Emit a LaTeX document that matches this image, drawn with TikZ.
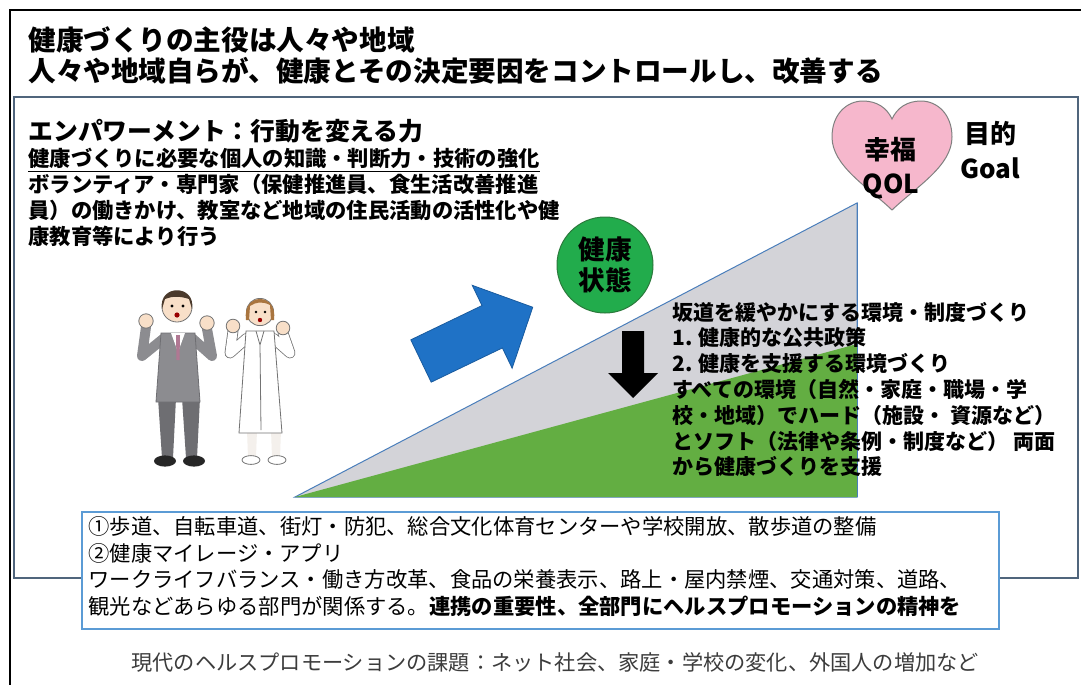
\documentclass[tikz,border=0pt]{standalone}
\usepackage{fontspec}
\usepackage{tikz}
\newfontfamily\jp{Noto Sans CJK JP}

\definecolor{framegray}{HTML}{50657C}
\definecolor{boxblue}{HTML}{5B9BD5}
\definecolor{slopegray}{HTML}{D3D3D8}
\definecolor{slopeline}{HTML}{4A7EBB}
\definecolor{grassgreen}{HTML}{63AE42}
\definecolor{ballgreen}{HTML}{22AC4C}
\definecolor{balledge}{HTML}{2B7A3C}
\definecolor{arrowblue}{HTML}{1F72C6}
\definecolor{heartpink}{HTML}{F6B7CC}
\definecolor{suitgray}{HTML}{8C8C90}
\definecolor{suitdark}{HTML}{6E6E72}
\definecolor{tiepink}{HTML}{B07893}
\definecolor{skin}{HTML}{F8DFC8}
\definecolor{hairdark}{HTML}{4B3A2C}
\definecolor{hairlight}{HTML}{A9753F}
\definecolor{footgray}{HTML}{3C3C3C}

\begin{document}
\begin{tikzpicture}[x=0.5pt, y=-0.5pt,
    every node/.style={inner sep=0pt},
    titletext/.style={anchor=west, font=\jp\bfseries\fontsize{13.8}{16}\selectfont},
    bodytext/.style={anchor=north west, align=left, font=\jp\bfseries\fontsize{10.65}{13}\selectfont},
    boxtext/.style={anchor=north west, align=left, font=\jp\fontsize{10.65}{13.35}\selectfont},
    bigtext/.style={font=\jp\bfseries\fontsize{13}{15}\selectfont},
    outline/.style={draw=black!55, line width=0.4pt}]

    \useasboundingbox (0,0) rectangle (1081,685);
    \fill[white] (0,0) rectangle (1081,685);

    % Draw frames
    \draw[line width=1.2pt] (1081,10) -- (10,10) -- (10,685);
    \draw[framegray, line width=0.7pt] (14,97) rectangle (1078,578);

    % Draw title
    \node[titletext] (title1) at (28,40) {健康づくりの主役は人々や地域};
    \node[titletext] (title2) at (28,71) {人々や地域自らが、健康とその決定要因をコントロールし、改善する};

    % Draw empowerment text
    \node[titletext, font=\jp\bfseries\fontsize{12.4}{15}\selectfont] (empower) at (28,131)
        {エンパワーメント：行動を変える力};
    \node[bodytext] (empowertext) at (28,147.5)
        {\underline{健康づくりに必要な個人の知識・判断力・技術の強化}\\
         ボランティア・専門家（保健推進員、食生活改善推進\\
         員）の働きかけ、教室など地域の住民活動の活性化や健\\
         康教育等により行う};

    % Draw slopes
    \filldraw[fill=slopegray, draw=slopeline, line width=0.5pt]
        (295,497) -- (857,203) -- (857,497) -- cycle;
    \fill[grassgreen] (295,497) -- (857,344) -- (857,497) -- cycle;
    \draw[slopeline, line width=0.4pt] (857,203) -- (857,497);

    % Draw health ball and arrows
    \node[circle, fill=ballgreen, draw=balledge, line width=0.5pt, minimum size=48pt,
          align=center, font=\jp\bfseries\fontsize{13.3}{15.5}\selectfont] (health) at (605,265)
        {健康\\状態};
    \begin{scope}[shift={(421,361)}, rotate=25.7]
        \filldraw[fill=arrowblue, draw=arrowblue!80!black, line width=0.4pt]
            (0,-23.5) -- (79,-23.5) -- (79,-46) -- (124,0) -- (79,46) -- (79,23.5) -- (0,23.5) -- cycle;
    \end{scope}
    \fill[black] (622,331) -- (644,331) -- (644,373) -- (658,373) -- (633,398)
        -- (608,373) -- (622,373) -- cycle;

    % Draw goal heart
    \filldraw[fill=heartpink, draw=black!50, line width=0.5pt]
        (892,210) .. controls (868,187) and (832,166) .. (832,137)
        .. controls (832,114) and (847,101) .. (863,101)
        .. controls (877,101) and (887,108) .. (892,119)
        .. controls (897,108) and (907,101) .. (921,101)
        .. controls (937,101) and (952,114) .. (952,137)
        .. controls (952,166) and (916,187) .. (892,210) -- cycle;
    \node[bigtext] (happy) at (890,150) {幸福};
    \node[bigtext] (qol) at (891,186) {QOL};
    \node[bigtext] (goal1) at (990,134) {目的};
    \node[bigtext] (goal2) at (990,168) {Goal};

    % Draw slope text
    \node[bodytext, font=\jp\bfseries\fontsize{10.5}{12.9}\selectfont] (slopetext) at (672,301.5)
        {坂道を緩やかにする環境・制度づくり\\
         1. 健康的な公共政策\\
         2. 健康を支援する環境づくり\\
         すべての環境（自然・家庭・職場・学\\
         校・地域）でハード（施設・ 資源など）\\
         とソフト（法律や条例・制度など） 両面\\
         から健康づくりを支援};

    % Draw man
    \fill[suitdark] (158,398) -- (176,398) -- (173,458) -- (162,458) -- cycle;
    \fill[suitdark] (182,398) -- (200,398) -- (197,458) -- (186,458) -- cycle;
    \fill[black!85] (165,461) ellipse (5.5pt and 2.8pt);
    \fill[black!85] (194,461) ellipse (5.5pt and 2.8pt);
    \draw[suitgray, line width=5pt, line cap=round, line join=round]
        (163,339) -- (142,356) -- (146,327);
    \draw[suitgray, line width=5pt, line cap=round, line join=round]
        (193,339) -- (212,356) -- (207,329);
    \filldraw[fill=suitgray, draw=suitdark, line width=0.4pt]
        (161,333) -- (195,333) -- (200,402) -- (156,402) -- cycle;
    \fill[white] (171,333) -- (185,333) -- (178,352) -- cycle;
    \fill[tiepink] (176,335) -- (180,335) -- (179.5,360) -- (176.5,360) -- cycle;
    \filldraw[fill=skin, outline] (146,321) circle (3.6pt);
    \filldraw[fill=skin, outline] (207,323) circle (3.6pt);
    \filldraw[fill=skin, outline] (177,307) circle (7.5pt);
    \fill[hairdark] (162,309) .. controls (158,284) and (196,284) .. (192,309)
        -- (189,299) .. controls (180,296) and (172,296) .. (165,299) -- cycle;
    \fill[black] (172,306) circle (0.8pt) (183,306) circle (0.8pt);
    \fill[red!60!black] (177,315) circle (1.3pt);

    % Draw woman
    \fill[skin!80!black!20!white] (247,430) -- (257,430) -- (256,457) -- (248,457) -- cycle;
    \fill[skin!80!black!20!white] (271,430) -- (281,430) -- (280,457) -- (272,457) -- cycle;
    \filldraw[fill=white, outline] (251,460) ellipse (4.5pt and 2.2pt);
    \filldraw[fill=white, outline] (277,460) ellipse (4.5pt and 2.2pt);
    \draw[black!55, line width=5.4pt, line cap=round, line join=round]
        (247,338) -- (230,353) -- (233,331);
    \draw[white, line width=4.6pt, line cap=round, line join=round]
        (247,338) -- (230,353) -- (233,331);
    \draw[black!55, line width=5.4pt, line cap=round, line join=round]
        (273,338) -- (290,353) -- (283,333);
    \draw[white, line width=4.6pt, line cap=round, line join=round]
        (273,338) -- (290,353) -- (283,333);
    \filldraw[fill=white, outline] (246,331) -- (274,331) -- (282,433) -- (239,433) -- cycle;
    \draw[black!55, line width=0.4pt] (256,331) -- (260,345) -- (264,331) (260,345) -- (261,430);
    \filldraw[fill=skin, outline] (233,326) circle (3.4pt);
    \filldraw[fill=skin, outline] (283,328) circle (3.4pt);
    \filldraw[fill=skin, outline] (260,312) circle (6.8pt);
    \fill[hairlight] (246,320) .. controls (242,292) and (278,292) .. (274,320)
        -- (271,320) -- (270,305) .. controls (262,301) and (256,302) .. (250,306) -- (249,320) -- cycle;
    \fill[black] (256,312) circle (0.7pt) (265,312) circle (0.7pt);
    \fill[red!60!black] (260,320) circle (1.1pt);

    % Draw measures box
    \filldraw[fill=white, draw=boxblue, line width=0.8pt] (82,512) rectangle (999,629);
    \node[boxtext] (measures) at (88,516)
        {①歩道、自転車道、街灯・防犯、総合文化体育センターや学校開放、散歩道の整備\\
         ②健康マイレージ・アプリ\\
         ワークライフバランス・働き方改革、食品の栄養表示、路上・屋内禁煙、交通対策、道路、\\
         観光などあらゆる部門が関係する。\textbf{連携の重要性、全部門にヘルスプロモーションの精神を}};

    % Draw footer
    \node[anchor=west, text=footgray, font=\jp\fontsize{10.6}{13}\selectfont] (issues) at (131,662)
        {現代のヘルスプロモーションの課題：ネット社会、家庭・学校の変化、外国人の増加など};
\end{tikzpicture}
\end{document}
